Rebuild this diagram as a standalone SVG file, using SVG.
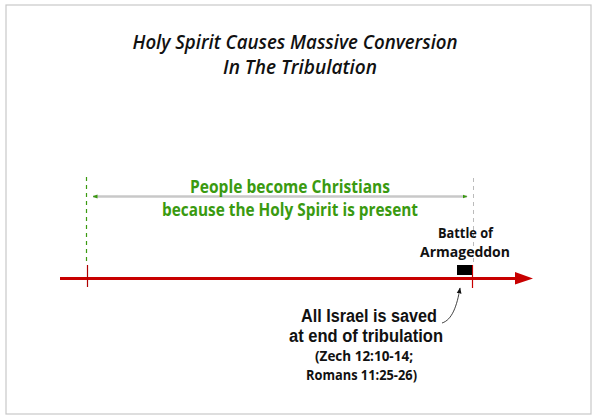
<svg xmlns="http://www.w3.org/2000/svg" width="600" height="420" viewBox="0 0 600 420">
<style>
.t{font-family:"Open Sans","Noto Sans","Liberation Sans",sans-serif;text-anchor:middle}
.title{font-size:20px;font-style:italic;font-weight:600;fill:#111}
.green{font-size:18.5px;font-weight:700;fill:#3a9a10}
.blk{font-weight:700;fill:#111}
.big{font-family:"Liberation Sans",Arial,sans-serif;font-size:17.5px}
</style>
<defs>
<marker id="ga" viewBox="0 0 10 10" refX="9" refY="5" markerWidth="5" markerHeight="5" orient="auto-start-reverse" markerUnits="userSpaceOnUse">
<path d="M0,1 L10,5 L0,9 Z" fill="#3a9a10"/>
</marker>
<marker id="ka" viewBox="0 0 10 10" refX="9" refY="5" markerWidth="6" markerHeight="6" orient="auto" markerUnits="userSpaceOnUse">
<path d="M0,1 L10,5 L0,9 Z" fill="#111"/>
</marker>
</defs>
<rect x="6" y="5" width="585" height="409" fill="#fff" stroke="#c8c8c8" stroke-width="1.2"/>
<g id="title">
<text class="t title" x="295" y="49" textLength="325" lengthAdjust="spacingAndGlyphs">Holy Spirit Causes Massive Conversion</text>
<text class="t title" x="300" y="74" textLength="154" lengthAdjust="spacingAndGlyphs">In The Tribulation</text>
</g>
<g id="connectors">
<line x1="86.5" y1="177" x2="86.5" y2="262" stroke="#3a9a10" stroke-width="1.2" stroke-dasharray="4,4"/>
<line x1="473.5" y1="178" x2="473.5" y2="263" stroke="#bbbbbb" stroke-width="1" stroke-dasharray="4,4"/>
<line x1="93" y1="196.5" x2="467" y2="196.5" stroke="#c8c8c8" stroke-width="2.5" marker-start="url(#ga)" marker-end="url(#ga)"/>
<line x1="60" y1="278.5" x2="516" y2="278.5" stroke="#c80000" stroke-width="3"/>
<path d="M515,272 L533,278.5 L515,284.5 Z" fill="#c80000"/>
<line x1="87.5" y1="265" x2="87.5" y2="287" stroke="#b00000" stroke-width="1.2"/>
<line x1="472.5" y1="265" x2="472.5" y2="288" stroke="#c80000" stroke-width="1.2"/>
<path d="M442,323 C452,320 457,306 460,288" fill="none" stroke="#111" stroke-width="0.8" marker-end="url(#ka)"/>
</g>
<g id="span-label">
<text class="t green" x="290" y="193" textLength="200" lengthAdjust="spacingAndGlyphs">People become Christians</text>
<text class="t green" x="290" y="216" textLength="256" lengthAdjust="spacingAndGlyphs">because the Holy Spirit is present</text>
</g>
<g id="armageddon">
<text class="t blk" x="465.5" y="238" font-size="13.5" textLength="55" lengthAdjust="spacingAndGlyphs">Battle of</text>
<text class="t blk" x="465" y="257" font-size="13.5" textLength="90" lengthAdjust="spacingAndGlyphs">Armageddon</text>
<rect x="457" y="265" width="15" height="10" fill="#000"/>
</g>
<g id="israel">
<text class="t blk big" x="369" y="321.5" textLength="136" lengthAdjust="spacingAndGlyphs">All Israel is saved</text>
<text class="t blk big" x="366" y="342" textLength="154" lengthAdjust="spacingAndGlyphs">at end of tribulation</text>
<text class="t blk" x="364" y="361" font-size="14" textLength="98" lengthAdjust="spacingAndGlyphs">(Zech 12:10-14;</text>
<text class="t blk" x="361.5" y="380" font-size="14" textLength="111" lengthAdjust="spacingAndGlyphs">Romans 11:25-26)</text>
</g>
</svg>
